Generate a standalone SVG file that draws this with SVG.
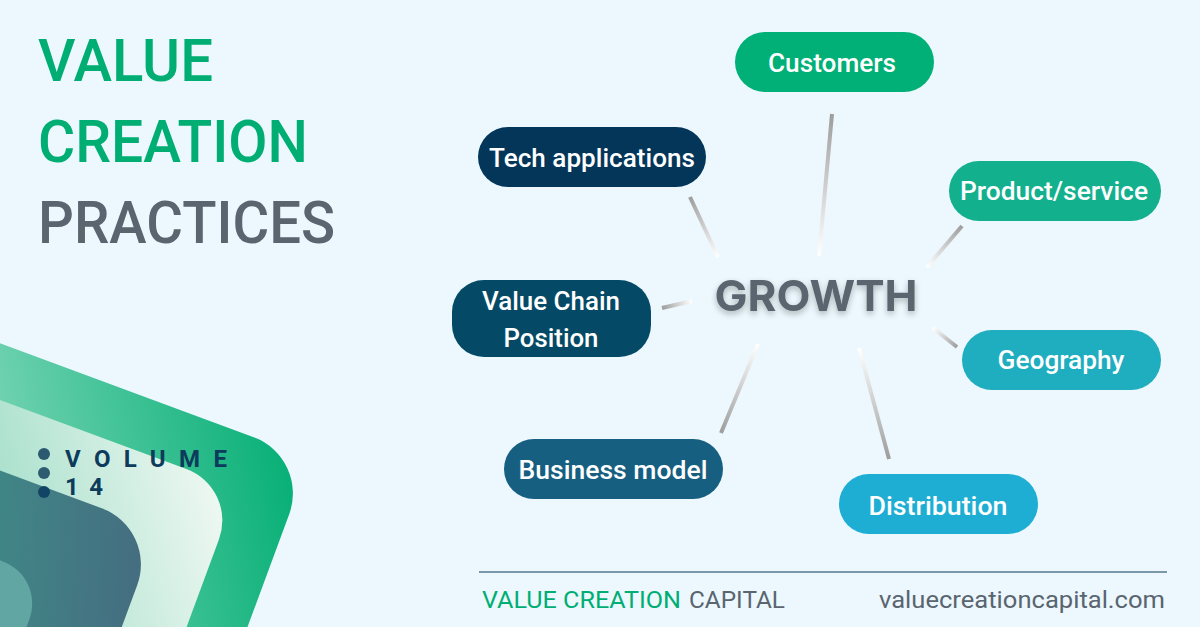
<svg xmlns="http://www.w3.org/2000/svg" width="1200" height="627" viewBox="0 0 1200 627">
<style>
.title{font-family:Roboto,"Liberation Sans",sans-serif;font-weight:500;font-size:60px}
.green{fill:#00ae74}
.grey{fill:#5a6570}
.lbl{font-family:Roboto,"Liberation Sans",sans-serif;font-weight:500;font-size:25px;fill:#ffffff;text-anchor:middle}
.foot{font-family:Roboto,"Liberation Sans",sans-serif;font-weight:400;font-size:24px}
.conn{stroke-width:4;fill:none}
.vol{font-family:Roboto,"Liberation Sans",sans-serif;font-weight:700;font-size:24px;fill:#0c3b5c}
</style>
<defs>
<filter id="sh" x="-20%" y="-40%" width="140%" height="180%">
<feDropShadow dx="0" dy="3" stdDeviation="3" flood-color="#000" flood-opacity="0.28"/>
</filter>
<linearGradient id="g1" gradientUnits="userSpaceOnUse" x1="832" y1="114" x2="819" y2="256"><stop offset="0" stop-color="#9d9d9d"/><stop offset="1" stop-color="#ffffff"/></linearGradient>
<linearGradient id="g2" gradientUnits="userSpaceOnUse" x1="690" y1="197" x2="718" y2="257"><stop offset="0" stop-color="#9d9d9d"/><stop offset="1" stop-color="#ffffff"/></linearGradient>
<linearGradient id="g3" gradientUnits="userSpaceOnUse" x1="962" y1="226" x2="927" y2="267"><stop offset="0" stop-color="#9d9d9d"/><stop offset="1" stop-color="#ffffff"/></linearGradient>
<linearGradient id="g4" gradientUnits="userSpaceOnUse" x1="662" y1="308" x2="692" y2="301"><stop offset="0" stop-color="#9d9d9d"/><stop offset="1" stop-color="#ffffff"/></linearGradient>
<linearGradient id="g5" gradientUnits="userSpaceOnUse" x1="957" y1="347" x2="933" y2="328"><stop offset="0" stop-color="#9d9d9d"/><stop offset="1" stop-color="#ffffff"/></linearGradient>
<linearGradient id="g6" gradientUnits="userSpaceOnUse" x1="721" y1="433" x2="758" y2="344"><stop offset="0" stop-color="#9d9d9d"/><stop offset="1" stop-color="#ffffff"/></linearGradient>
<linearGradient id="g7" gradientUnits="userSpaceOnUse" x1="889" y1="459" x2="859" y2="348"><stop offset="0" stop-color="#9d9d9d"/><stop offset="1" stop-color="#ffffff"/></linearGradient>
<linearGradient id="s1" gradientUnits="userSpaceOnUse" x1="0" y1="0" x2="-320" y2="200"><stop offset="0" stop-color="#00ad72"/><stop offset="1" stop-color="#8fdcc2"/></linearGradient>
<linearGradient id="s2" gradientUnits="userSpaceOnUse" x1="0" y1="0" x2="-220" y2="160"><stop offset="0" stop-color="#f4faf5"/><stop offset="1" stop-color="#9ddcc6"/></linearGradient>
<linearGradient id="s3" gradientUnits="userSpaceOnUse" x1="0" y1="0" x2="-200" y2="60"><stop offset="0" stop-color="#456b80"/><stop offset="1" stop-color="#3f8e88"/></linearGradient>
</defs>
<rect width="1200" height="627" fill="#ecf8fe"/>

<g id="decor">
<rect transform="translate(310,458) rotate(20.3)" x="-600" y="0" width="600" height="600" rx="60" fill="url(#s1)"/>
<rect transform="translate(238,488) rotate(20.3)" x="-600" y="0" width="600" height="600" rx="55" fill="url(#s2)"/>
<rect transform="translate(158,529) rotate(20.3)" x="-600" y="0" width="600" height="600" rx="60" fill="url(#s3)"/>
<rect transform="translate(45,577) rotate(20.3)" x="-300" y="0" width="300" height="300" rx="45" fill="#62a6a4"/>
</g>

<g id="volume">
<circle cx="44" cy="454" r="6" fill="#2b5a70"/>
<circle cx="44" cy="473" r="6" fill="#2d5c70"/>
<circle cx="44" cy="492" r="6" fill="#124565"/>
<text class="vol" x="65" y="467" textLength="162" lengthAdjust="spacing">VOLUME</text>
<text class="vol" x="65" y="495" textLength="38" lengthAdjust="spacing">14</text>
</g>

<g id="title">
<text class="title green" x="38" y="81" textLength="175" lengthAdjust="spacingAndGlyphs">VALUE</text>
<text class="title green" x="38" y="162" textLength="270" lengthAdjust="spacingAndGlyphs">CREATION</text>
<text class="title grey" x="38" y="243" textLength="297" lengthAdjust="spacingAndGlyphs">PRACTICES</text>
</g>

<g id="connectors">
<line class="conn" x1="832" y1="114" x2="819" y2="256" stroke="url(#g1)"/>
<line class="conn" x1="690" y1="197" x2="718" y2="257" stroke="url(#g2)"/>
<line class="conn" x1="962" y1="226" x2="927" y2="267" stroke="url(#g3)"/>
<line class="conn" x1="662" y1="308" x2="692" y2="301" stroke="url(#g4)"/>
<line class="conn" x1="957" y1="347" x2="933" y2="328" stroke="url(#g5)"/>
<line class="conn" x1="721" y1="433" x2="758" y2="344" stroke="url(#g6)"/>
<line class="conn" x1="889" y1="459" x2="859" y2="348" stroke="url(#g7)"/>
</g>

<g id="growth">
<text x="816" y="311" text-anchor="middle" font-family="Inter, 'Liberation Sans', sans-serif" font-weight="700" font-size="43" fill="#5a6570" textLength="203" lengthAdjust="spacingAndGlyphs" filter="url(#sh)">GROWTH</text>
</g>

<g id="customers">
<rect x="735" y="32" width="199" height="60" rx="30" fill="#00b077"/>
<text class="lbl" x="832" y="72" textLength="128" lengthAdjust="spacingAndGlyphs">Customers</text>
</g>
<g id="tech">
<rect x="478" y="127" width="228" height="60" rx="30" fill="#04365a"/>
<text class="lbl" x="592" y="167" textLength="206" lengthAdjust="spacingAndGlyphs">Tech applications</text>
</g>
<g id="product">
<rect x="949" y="161" width="212" height="60" rx="30" fill="#13b08e"/>
<text class="lbl" x="1054" y="200" textLength="188" lengthAdjust="spacingAndGlyphs">Product/service</text>
</g>
<g id="valuechain">
<rect x="452" y="280" width="199" height="77" rx="32" fill="#044a66"/>
<text class="lbl" x="551" y="310" textLength="138" lengthAdjust="spacingAndGlyphs">Value Chain</text>
<text class="lbl" x="551" y="347" textLength="95" lengthAdjust="spacingAndGlyphs">Position</text>
</g>
<g id="geography">
<rect x="962" y="330" width="199" height="60" rx="30" fill="#1fadc0"/>
<text class="lbl" x="1061" y="369" textLength="127" lengthAdjust="spacingAndGlyphs">Geography</text>
</g>
<g id="business">
<rect x="504" y="439" width="219" height="60" rx="30" fill="#165f80"/>
<text class="lbl" x="613" y="479" textLength="189" lengthAdjust="spacingAndGlyphs">Business model</text>
</g>
<g id="distribution">
<rect x="839" y="474" width="199" height="60" rx="30" fill="#1eaed3"/>
<text class="lbl" x="938" y="515" textLength="139" lengthAdjust="spacingAndGlyphs">Distribution</text>
</g>

<g id="footer">
<line x1="479" y1="572" x2="1167" y2="572" stroke="#7a98a8" stroke-width="2"/>
<text class="foot green" x="482" y="608" textLength="199" lengthAdjust="spacingAndGlyphs">VALUE CREATION</text>
<text class="foot grey" x="689" y="608" textLength="96" lengthAdjust="spacingAndGlyphs">CAPITAL</text>
<text class="foot grey" x="879" y="608" textLength="286" lengthAdjust="spacingAndGlyphs">valuecreationcapital.com</text>
</g>
</svg>
